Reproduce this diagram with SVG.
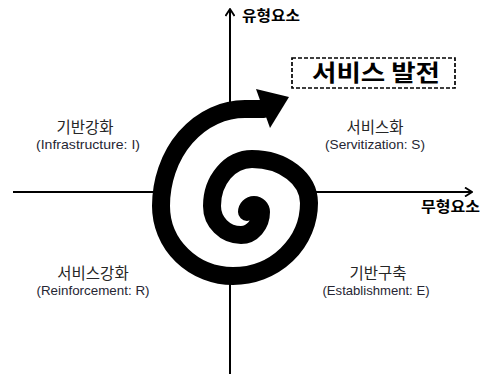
<svg xmlns="http://www.w3.org/2000/svg" width="483" height="374" viewBox="0 0 483 374">
<style>
.axis{stroke:#000;stroke-width:2;fill:none}
.kr{font-family:"Noto Sans CJK KR","Noto Sans",sans-serif;font-size:15.5px;fill:#262626;text-anchor:middle}
.en{font-family:"Liberation Sans","Noto Sans",sans-serif;font-size:13px;fill:#262633;text-anchor:middle}
.ax{font-family:"Noto Sans CJK KR","Noto Sans",sans-serif;font-size:15px;font-weight:bold;fill:#000}
.title{font-family:"Noto Sans CJK KR","Noto Sans",sans-serif;font-size:22.5px;font-weight:bold;fill:#000;text-anchor:middle}
</style>
<defs>
<marker id="ah" viewBox="0 0 10 10" refX="9" refY="5" markerWidth="10" markerHeight="10" markerUnits="userSpaceOnUse" orient="auto">
<path d="M2 0.5 L9 5 L2 9.5" fill="none" stroke="#000" stroke-width="1.8"/>
</marker>
</defs>
<rect width="483" height="374" fill="#fff"/>
<g id="connectors">
<line class="axis" x1="230" y1="374" x2="230" y2="9" marker-end="url(#ah)"/>
<line class="axis" x1="13" y1="192" x2="472" y2="192" marker-end="url(#ah)"/>
</g>
<g id="spiral">
<ellipse cx="235" cy="192.5" rx="75" ry="84.5" fill="#fff"/>
<path d="M247 212 A7 7 0 0 1 254 205 A7 7 0 0 1 261 212 A20 23 0 0 1 241 235 A29 29 0 0 1 212 206 A40 47 0 0 1 252 159 A57 44 0 0 1 309 203 A76 73 0 0 1 233 276 A72 70 0 0 1 161 206 A84 97 0 0 1 245 109 L264 109" fill="none" stroke="#000" stroke-width="18" stroke-linecap="round"/>
<polygon points="256,89 289,97 270,128" fill="#000"/>
</g>
<g id="label-y"><text class="ax" x="242" y="21" textLength="58" lengthAdjust="spacingAndGlyphs">유형요소</text></g>
<g id="label-x"><text class="ax" x="421" y="212" textLength="59" lengthAdjust="spacingAndGlyphs">무형요소</text></g>
<g id="goal">
<rect x="292" y="58" width="163" height="30" fill="#fff" stroke="#000" stroke-width="1.7" stroke-dasharray="4 2"/>
<text class="title" x="376" y="81" textLength="128" lengthAdjust="spacingAndGlyphs">서비스 발전</text>
</g>
<g id="q-infra">
<text class="kr" x="85" y="133">기반강화</text>
<text class="en" x="88" y="149" textLength="104" lengthAdjust="spacingAndGlyphs">(Infrastructure: I)</text>
</g>
<g id="q-servi">
<text class="kr" x="375" y="133">서비스화</text>
<text class="en" x="375" y="149" textLength="100" lengthAdjust="spacingAndGlyphs">(Servitization: S)</text>
</g>
<g id="q-reinf">
<text class="kr" x="93" y="279">서비스강화</text>
<text class="en" x="93" y="295" textLength="113" lengthAdjust="spacingAndGlyphs">(Reinforcement: R)</text>
</g>
<g id="q-estab">
<text class="kr" x="378" y="279">기반구축</text>
<text class="en" x="376" y="295" textLength="107" lengthAdjust="spacingAndGlyphs">(Establishment: E)</text>
</g>
</svg>
